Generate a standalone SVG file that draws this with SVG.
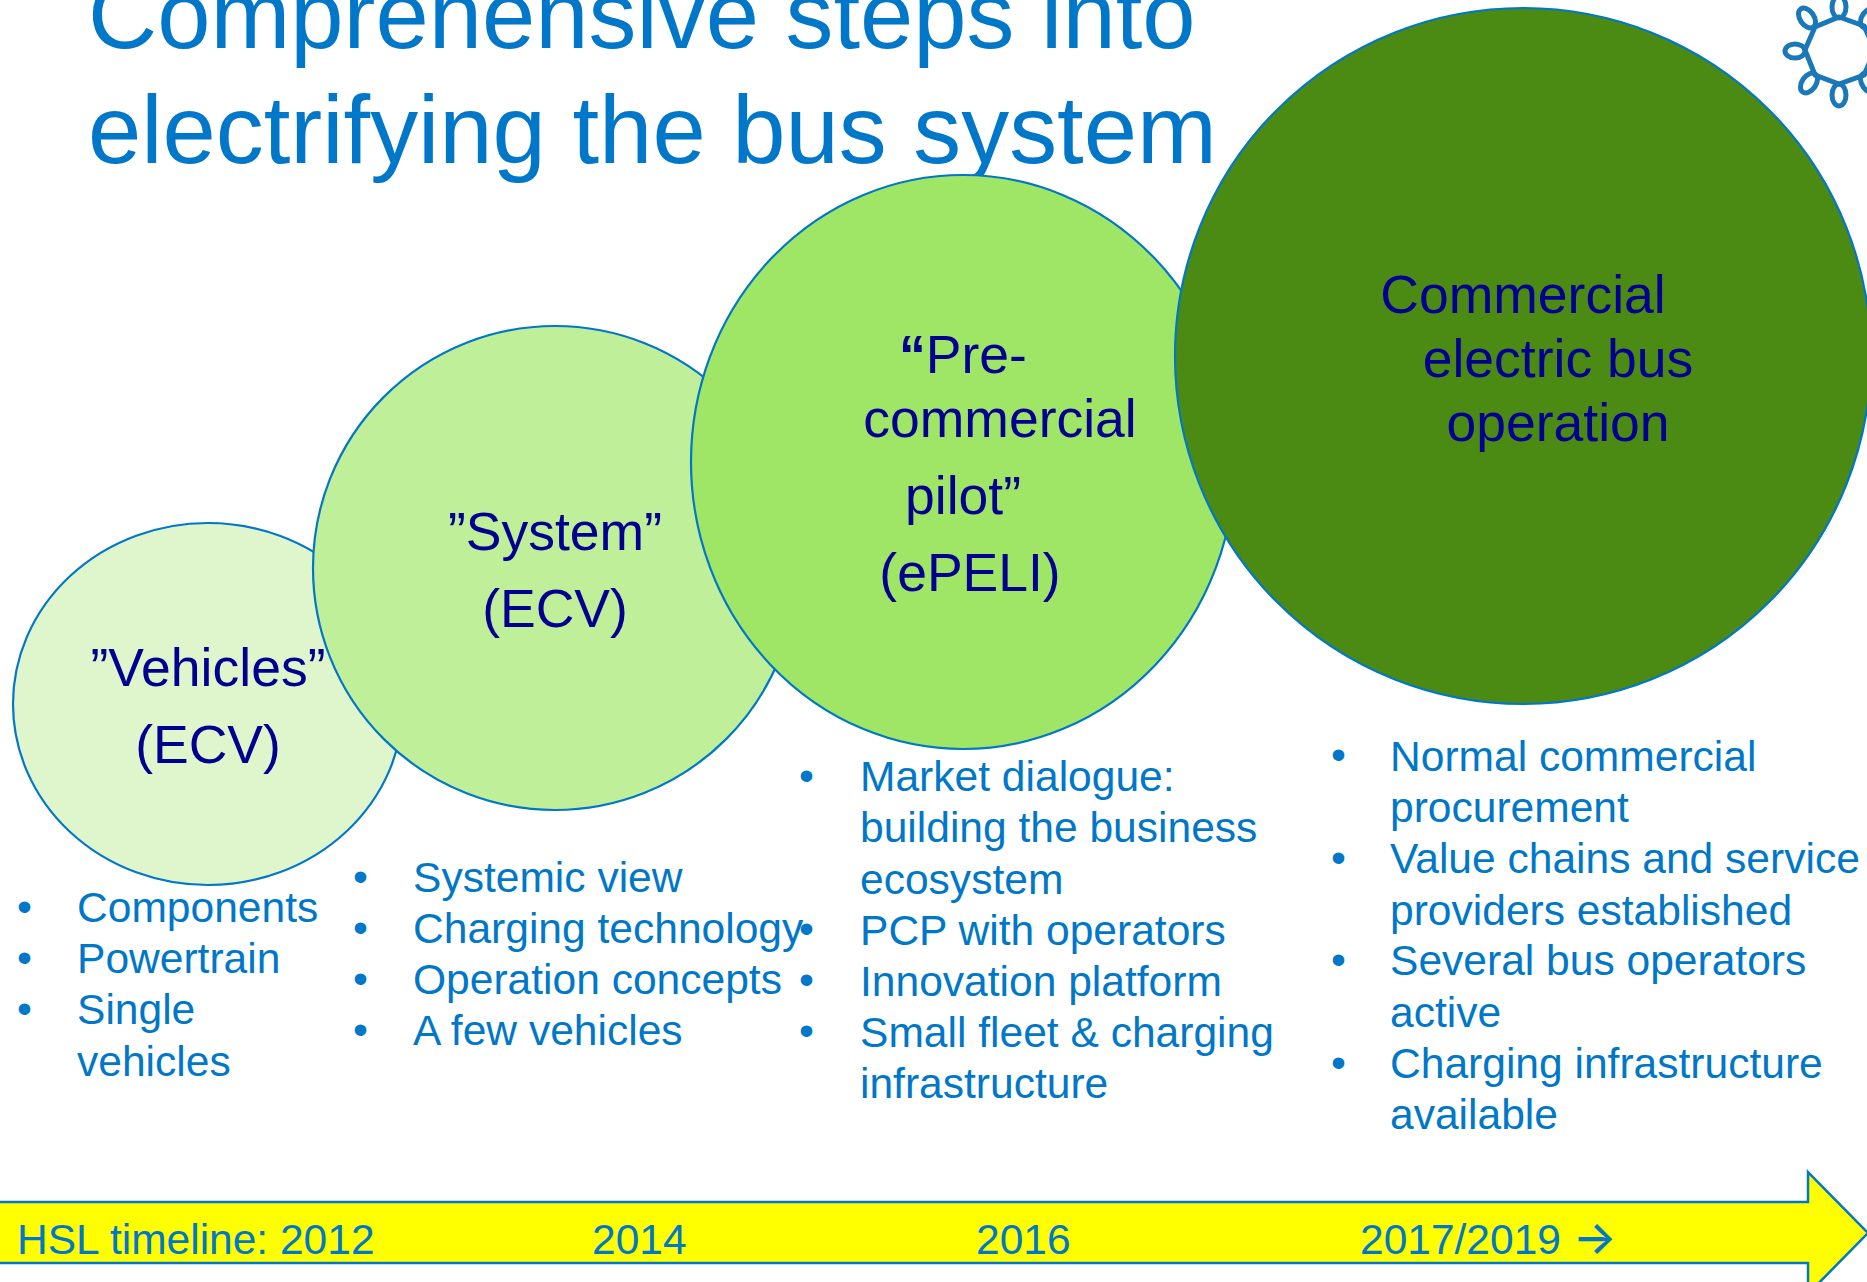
<svg xmlns="http://www.w3.org/2000/svg" width="1867" height="1282" viewBox="0 0 1867 1282">
<style>
text{font-family:"Liberation Sans",Arial,sans-serif}
.t{font-size:95.8px;fill:#0077c8}
.n{stroke:#0077c8;stroke-width:2.2}
.l{font-size:53.5px;fill:#000090}
.c{text-anchor:middle}
.b{font-size:42.55px;fill:#0077c8}
.y{font-size:42.5px;fill:#0077c8}
.lg{fill:none;stroke:#1a78b8;stroke-width:5}
</style>
<rect width="1867" height="1282" fill="#fff"/>
<g id="title"><text class="t" x="88" y="48">Comprehensive steps into</text><text class="t" x="88" y="163">electrifying the bus system</text></g>
<g id="logo" class="lg"><polygon points="1839,17 1864,26 1875,50 1864,75 1839,84 1815,75 1805,50 1815,27"/>
<ellipse cx="1839" cy="7" rx="7" ry="11"/><ellipse cx="1839" cy="95" rx="7" ry="11"/><ellipse cx="1795" cy="51" rx="10" ry="7"/>
<ellipse cx="1807" cy="18" rx="7" ry="11" transform="rotate(-35 1807 18)"/><ellipse cx="1809" cy="83" rx="7" ry="11" transform="rotate(35 1809 83)"/>
<ellipse cx="1869" cy="18" rx="7" ry="11" transform="rotate(35 1869 18)"/><ellipse cx="1869" cy="83" rx="7" ry="11" transform="rotate(-35 1869 83)"/></g>
<g id="node1"><ellipse class="n" cx="208" cy="704" rx="195" ry="181" fill="#dff6cc"/><text class="l c" x="208" y="686">”Vehicles”</text><text class="l c" x="208" y="763">(ECV)</text></g>
<g id="node2"><circle class="n" cx="555" cy="568" r="242" fill="#c0ef9a"/><text class="l c" x="555" y="550">”System”</text><text class="l c" x="555" y="627">(ECV)</text></g>
<g id="node3"><ellipse class="n" cx="963" cy="462" rx="272" ry="287" fill="#a0e666"/><text class="l c" x="963" y="373"><tspan font-weight="bold">“</tspan>Pre-</text><text class="l c" x="1000" y="437">commercial</text><text class="l c" x="963" y="514">pilot”</text><text class="l c" x="970" y="591">(ePELI)</text></g>
<g id="node4"><ellipse class="n" cx="1523" cy="356" rx="348" ry="348" fill="#4b8b13"/><text class="l c" x="1523" y="313">Commercial</text><text class="l c" x="1558" y="377">electric bus</text><text class="l c" x="1558" y="441">operation</text></g>
<g id="list1" class="b"><text x="17" y="921">•</text><text x="17" y="972">•</text><text x="17" y="1023">•</text><text x="77" y="922">Components</text><text x="77" y="973">Powertrain</text><text x="77" y="1024">Single</text><text x="77" y="1076">vehicles</text></g>
<g id="list2" class="b"><text x="353" y="891">•</text><text x="353" y="942">•</text><text x="353" y="993">•</text><text x="353" y="1044">•</text><text x="413" y="892">Systemic view</text><text x="413" y="943">Charging technology</text><text x="413" y="994">Operation concepts</text><text x="413" y="1045">A few vehicles</text></g>
<g id="list3" class="b"><text x="799" y="790">•</text><text x="799" y="943">•</text><text x="799" y="994">•</text><text x="799" y="1045">•</text><text x="860" y="791">Market dialogue:</text><text x="860" y="842">building the business</text><text x="860" y="894">ecosystem</text><text x="860" y="945">PCP with operators</text><text x="860" y="996">Innovation platform</text><text x="860" y="1047">Small fleet &amp; charging</text><text x="860" y="1098">infrastructure</text></g>
<g id="list4" class="b"><text x="1331" y="769">•</text><text x="1331" y="872">•</text><text x="1331" y="974">•</text><text x="1331" y="1077">•</text><text x="1390" y="771">Normal commercial</text><text x="1390" y="822">procurement</text><text x="1390" y="873">Value chains and service</text><text x="1390" y="925">providers established</text><text x="1390" y="975">Several bus operators</text><text x="1390" y="1027">active</text><text x="1390" y="1078">Charging infrastructure</text><text x="1390" y="1129">available</text></g>
<g id="timeline"><polygon points="-5,1202 1808,1202 1808,1172 1868,1233 1808,1294 1808,1263 -5,1263" fill="#ff0" stroke="#0077c8" stroke-width="2.5"/>
<text class="y" x="17" y="1254">HSL timeline: 2012</text><text class="y" x="592" y="1254">2014</text><text class="y" x="976" y="1254">2016</text><text class="y" x="1360" y="1254">2017/2019 <tspan font-family="Inter" font-size="46" font-weight="500">→</tspan></text></g>
<g id="connectors"></g>
</svg>
